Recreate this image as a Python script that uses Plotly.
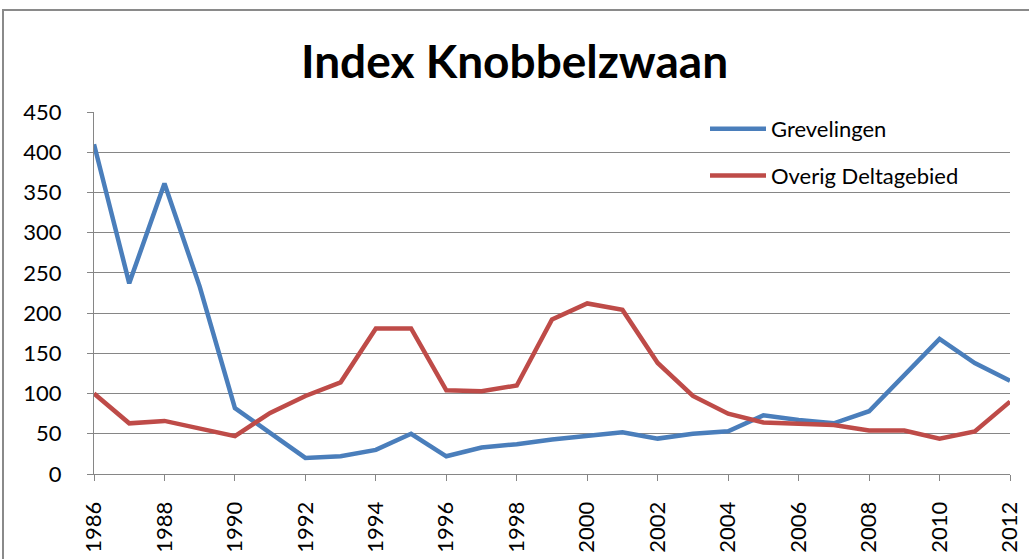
import plotly.graph_objects as go

years = list(range(1986, 2013))
grevelingen = [410, 237, 361, 233, 82, 51, 20, 22, 30, 50,
               22, 33, 37, 43, 47, 52, 44, 50, 53, 73,
               67, 63, 78, 123, 168, 138, 116]
overig_delta = [100, 63, 66, 56, 47, 76, 97, 114, 181, 181,
                104, 103, 110, 192, 212, 204, 138, 97, 75, 64,
                63, 61, 54, 54, 44, 53, 90]
series_names = ["Grevelingen", "Overig Deltagebied"]
title_text = "Index Knobbelzwaan"
x_ticks = list(range(1986, 2013, 2))
y_ticks = list(range(0, 451, 50))

W, H = 1029, 559
L, R, T, B = 94, 1010, 112, 474

fig = go.Figure()
fig.add_trace(go.Scatter(x=years, y=grevelingen, mode="lines", name=series_names[0],
                         legendgroup="g1",
                         line=dict(color="#4A7EBB", width=4.5)))
fig.add_trace(go.Scatter(x=years, y=overig_delta, mode="lines", name=series_names[1],
                         legendgroup="g2",
                         line=dict(color="#BE4B48", width=4.5)))

def px_x(p):
    return (p - L) / (R - L)

def px_y(p):
    return (B - p) / (B - T)

fig.update_layout(
    width=W, height=H,
    margin=dict(l=L, r=W - R, t=T, b=H - B, autoexpand=False),
    paper_bgcolor="white", plot_bgcolor="white",
    font=dict(family="Lato, 'Open Sans', sans-serif", color="#000000", size=21),
    title=dict(text=title_text, x=0.5, xanchor="center", y=1 - 62 / H, yanchor="middle",
               font=dict(family="Lato, 'Open Sans', sans-serif", size=46, color="#000000",
                         weight="bold")),
    showlegend=True,
    legend=dict(x=px_x(705), y=px_y(108), xanchor="left", yanchor="top",
                bgcolor="rgba(0,0,0,0)", traceorder="grouped", tracegroupgap=15,
                itemwidth=56, font=dict(size=22)),
    xaxis=dict(range=[1986, 2012], tickvals=x_ticks, tickangle=-90,
               showgrid=False, showline=True, linecolor="#868686", linewidth=1,
               ticks="outside", ticklen=6, tickcolor="#868686",
               ticklabelstandoff=12, zeroline=False,
               tickfont=dict(size=22)),
    yaxis=dict(range=[0, 450], tickvals=y_ticks,
               showgrid=True, gridcolor="#868686", gridwidth=1,
               showline=True, linecolor="#868686", linewidth=1,
               ticks="outside", ticklen=6, tickcolor="#868686",
               ticklabelstandoff=21, zeroline=False,
               tickfont=dict(size=22)),
    shapes=[dict(type="rect", xref="paper", yref="paper",
                 x0=px_x(3), x1=px_x(1045), y0=px_y(575), y1=px_y(10),
                 line=dict(color="#8a8a8a", width=2), fillcolor="rgba(0,0,0,0)",
                 layer="below")],
)

fig.write_html("out.html", config={"displayModeBar": False},
               post_script="document.body.style.margin='0';document.body.style.overflow='hidden';")
